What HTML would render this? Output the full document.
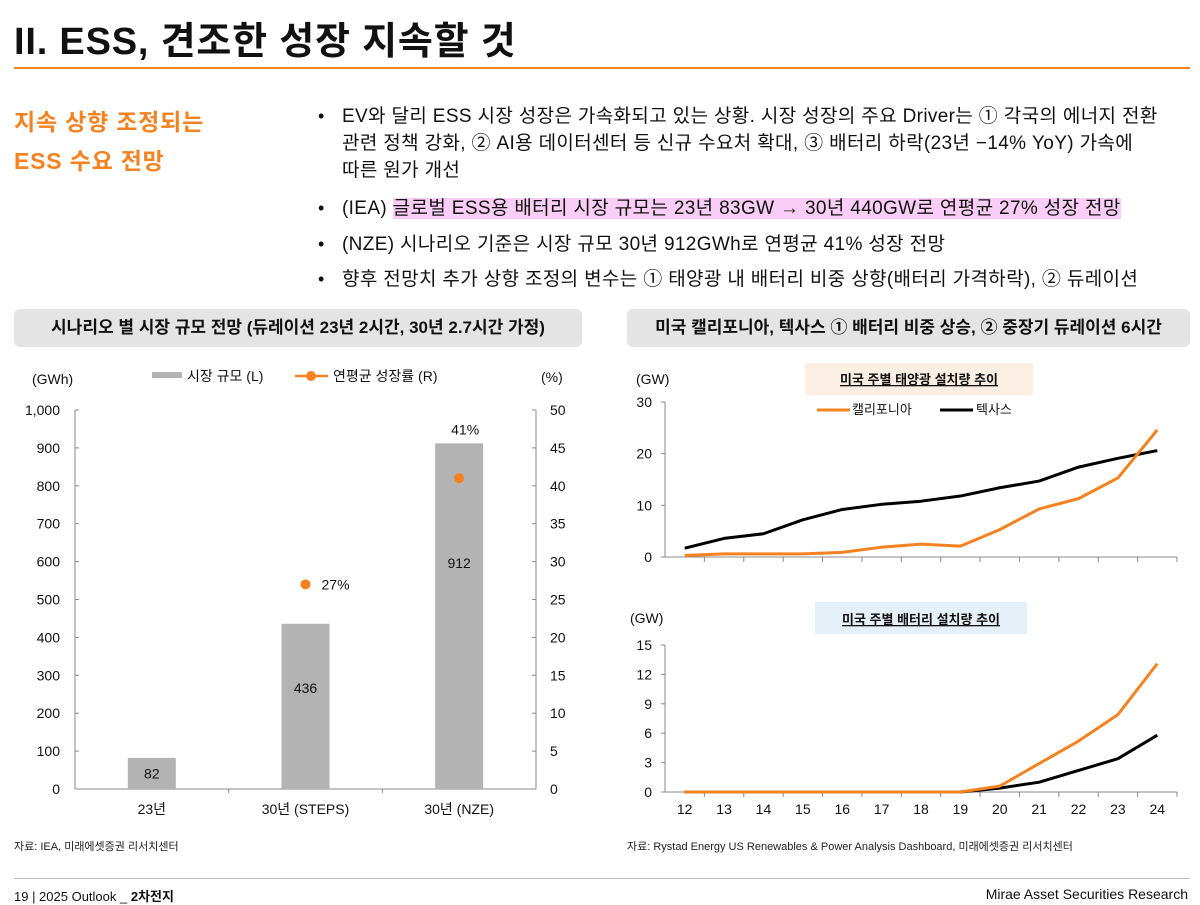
<!DOCTYPE html>
<html><head><meta charset="utf-8">
<style>
body{margin:0;width:1200px;height:902px;background:#fff;font-family:"Liberation Sans","Noto Sans CJK KR",sans-serif;color:#111;position:relative;overflow:hidden}
.a{position:absolute;white-space:nowrap}
.title{left:14px;top:10px;font-size:38px;font-weight:bold;letter-spacing:0.8px}
.rule{left:14px;top:67px;width:1176px;height:2px;background:#f58220}
.side{left:14px;font-size:23px;font-weight:bold;color:#f58220;letter-spacing:0.8px}
.bl{left:342px;font-size:19px;line-height:27px;letter-spacing:0.35px}
.dot{left:318px;font-size:18px}
.hdr{background:#e4e4e4;border-radius:6px;font-size:17px;font-weight:bold;height:38px;line-height:38px;text-align:center}
.src{font-size:11px;color:#222}
svg text{font-family:"Liberation Sans","Noto Sans CJK KR",sans-serif}
</style></head><body>
<div class="a title">II. ESS, 견조한 성장 지속할 것</div>
<div class="a rule"></div>
<div class="a side" style="top:103px">지속 상향 조정되는</div>
<div class="a side" style="top:142px">ESS 수요 전망</div>
<div class="a dot" style="top:106px">•</div>
<div class="a bl" style="top:103px">EV와 달리 ESS 시장 성장은 가속화되고 있는 상황. 시장 성장의 주요 Driver는 ① 각국의 에너지 전환<br>관련 정책 강화, ② AI용 데이터센터 등 신규 수요처 확대, ③ 배터리 하락(23년 −14% YoY) 가속에<br>따른 원가 개선</div>
<div class="a dot" style="top:198px">•</div>
<div class="a bl" style="top:195px">(IEA) <span style="background:#f9cdf5">글로벌 ESS용 배터리 시장 규모는 23년 83GW → 30년 440GW로 연평균 27% 성장 전망</span></div>
<div class="a dot" style="top:234px">•</div>
<div class="a bl" style="top:231px">(NZE) 시나리오 기준은 시장 규모 30년 912GWh로 연평균 41% 성장 전망</div>
<div class="a dot" style="top:269px">•</div>
<div class="a bl" style="top:266px">향후 전망치 추가 상향 조정의 변수는 ① 태양광 내 배터리 비중 상향(배터리 가격하락), ② 듀레이션</div>

<div class="a hdr" style="left:14px;top:309px;width:568px">시나리오 별 시장 규모 전망 (듀레이션 23년 2시간, 30년 2.7시간 가정)</div>
<div class="a hdr" style="left:627px;top:309px;width:563px">미국 캘리포니아, 텍사스 ① 배터리 비중 상승, ② 중장기 듀레이션 6시간</div>

<svg class="a" style="left:0;top:0" width="1200" height="902" id="charts"></svg>

<div class="a src" style="left:14px;top:838px">자료: IEA, 미래에셋증권 리서치센터</div>
<div class="a src" style="left:627px;top:838px">자료: Rystad Energy US Renewables &amp; Power Analysis Dashboard, 미래에셋증권 리서치센터</div>
<div class="a" style="left:14px;top:878px;width:1176px;height:1px;background:#bbb"></div>
<div class="a" style="left:14px;top:886px;font-size:13px">19 | 2025 Outlook _ <b>2차전지</b></div>
<div class="a" style="right:12px;top:886px;font-size:14px">Mirae Asset Securities Research</div>

<script>
const barCats=["23년","30년 (STEPS)","30년 (NZE)"];
const barVals=[82,436,912];
const growthVals=[null,27,41];
const growthLabels=["","27%","41%"];
const leftTicks=[0,100,200,300,400,500,600,700,800,900,1000];
const rightTicks=[0,5,10,15,20,25,30,35,40,45,50];
const years=["12","13","14","15","16","17","18","19","20","21","22","23","24"];
const solarCA=[0.3,0.6,0.6,0.6,0.9,1.9,2.5,2.1,5.3,9.3,11.3,15.3,24.6];
const solarTX=[1.7,3.6,4.5,7.2,9.2,10.2,10.8,11.8,13.4,14.7,17.4,19.1,20.6];
const battCA=[0,0,0,0,0,0,0,0,0.6,2.9,5.2,7.9,13.1];
const battTX=[0,0,0,0,0,0,0,0,0.4,1.0,2.2,3.4,5.8];
const solarTicks=[0,10,20,30];
const battTicks=[0,3,6,9,12,15];

const svg=document.getElementById('charts');
const NS='http://www.w3.org/2000/svg';
function mk(tag,attrs,parent){const e=document.createElementNS(NS,tag);for(const k in attrs)e.setAttribute(k,attrs[k]);(parent||svg).appendChild(e);return e;}
function txt(x,y,s,size,anchor,extra){const t=mk('text',Object.assign({x:x,y:y,'font-size':size,'text-anchor':anchor||'start',fill:'#111'},extra||{}));t.textContent=s;return t;}

// left chart
const L={x0:75,x1:536,y0:789,y1:410};
const ly=v=>L.y0-(v/1000)*(L.y0-L.y1);
const ry=v=>L.y0-(v/50)*(L.y0-L.y1);
const bw=(L.x1-L.x0)/barCats.length;
const bx=i=>L.x0+bw*(i+0.5);
mk('line',{x1:L.x0,y1:L.y1,x2:L.x0,y2:L.y0,stroke:'#888'});
mk('line',{x1:L.x1,y1:L.y1,x2:L.x1,y2:L.y0,stroke:'#888'});
mk('line',{x1:L.x0,y1:L.y0,x2:L.x1,y2:L.y0,stroke:'#888'});
leftTicks.forEach(v=>{const t=txt(60,ly(v)+5,v.toLocaleString('en-US'),14,'end');mk('line',{x1:L.x0,y1:ly(v),x2:L.x0+4,y2:ly(v),stroke:'#888'});});
rightTicks.forEach(v=>{const t=txt(550,ry(v)+5,String(v),14,'start');mk('line',{x1:L.x1-4,y1:ry(v),x2:L.x1,y2:ry(v),stroke:'#888'});});
txt(32,384,'(GWh)',14);txt(541,382,'(%)',14);
mk('rect',{x:152,y:372,width:30,height:6,fill:'#b3b3b3'});txt(187,381,'시장 규모 (L)',14);
mk('line',{x1:295,y1:376,x2:328,y2:376,stroke:'#f58220','stroke-width':2.5});mk('circle',{cx:311,cy:376,r:5,fill:'#f58220'});txt(333,381,'연평균 성장률 (R)',14);
barCats.forEach((c,i)=>{
 const r=mk('rect',{x:bx(i)-24,y:ly(barVals[i]),width:48,height:L.y0-ly(barVals[i]),fill:'#b3b3b3'});
 
 
 const midY=i==0?ly(barVals[i])/2+L.y0/2+5:ly(barVals[i])+(L.y0-ly(barVals[i]))*0.42;
 txt(bx(i),i==2?ly(barVals[i])*0.5+ly(0)*0.5-48:midY,String(barVals[i]),14,'middle');
 txt(bx(i),814,c,14,'middle');
 if(i>0)mk('line',{x1:L.x0+bw*i,y1:L.y0,x2:L.x0+bw*i,y2:L.y0+4,stroke:'#888'});
 if(growthVals[i]!=null){
  const p=mk('circle',{cx:bx(i),cy:ry(growthVals[i]),r:5,fill:'#f58220'});
  
  
  if(i==2)txt(bx(i)+6,ly(barVals[i])-9,growthLabels[i],14,'middle');
  else txt(bx(i)+16,ry(growthVals[i])+5,growthLabels[i],14,'start');
 }
});

// right line charts
function lineChart(cfg){
 const X0=665,X1=1177,step=(X1-X0)/years.length;
 const xs=i=>X0+step*(i+0.5);
 const ys=v=>cfg.y0-(v/cfg.max)*(cfg.y0-cfg.y1);
 mk('line',{x1:X0,y1:cfg.y1,x2:X0,y2:cfg.y0,stroke:'#888'});
 mk('line',{x1:X0,y1:cfg.y0,x2:X1,y2:cfg.y0,stroke:'#888'});
 cfg.ticks.forEach(v=>{txt(652,ys(v)+5,String(v),14,'end');mk('line',{x1:X0-4,y1:ys(v),x2:X0,y2:ys(v),stroke:'#888'});});
 for(let i=1;i<=years.length;i++)mk('line',{x1:X0+step*i,y1:cfg.y0,x2:X0+step*i,y2:cfg.y0+5,stroke:'#888'});
 if(cfg.labels)years.forEach((y,i)=>txt(xs(i),814,y,14,'middle'));
 [[cfg.tx,'#000'],[cfg.ca,'#f58220']].forEach(([arr,col],k)=>{
  const p=mk('polyline',{points:arr.map((v,i)=>xs(i)+','+ys(v)).join(' '),fill:'none',stroke:col,'stroke-width':3,'stroke-linejoin':'round'});
  
  
 });
}
mk('rect',{x:805,y:363,width:228,height:32,fill:'#fbeee3'});
txt(919,384,'미국 주별 태양광 설치량 추이',13,'middle',{'font-weight':'bold','text-decoration':'underline'});
txt(636,384,'(GW)',14);
mk('line',{x1:817,y1:410,x2:850,y2:410,stroke:'#f58220','stroke-width':3});txt(852,414,'캘리포니아',13);
mk('line',{x1:940,y1:410,x2:973,y2:410,stroke:'#000','stroke-width':3});txt(976,414,'텍사스',13);
lineChart({y0:557,y1:402,max:30,ticks:solarTicks,ca:solarCA,tx:solarTX,name:'solar',labels:false});
mk('rect',{x:815,y:602,width:212,height:32,fill:'#e6f0f8'});
txt(921,624,'미국 주별 배터리 설치량 추이',13,'middle',{'font-weight':'bold','text-decoration':'underline'});
txt(630,623,'(GW)',14);
lineChart({y0:792,y1:645,max:15,ticks:battTicks,ca:battCA,tx:battTX,name:'battery',labels:true});
</script>
</body></html>
